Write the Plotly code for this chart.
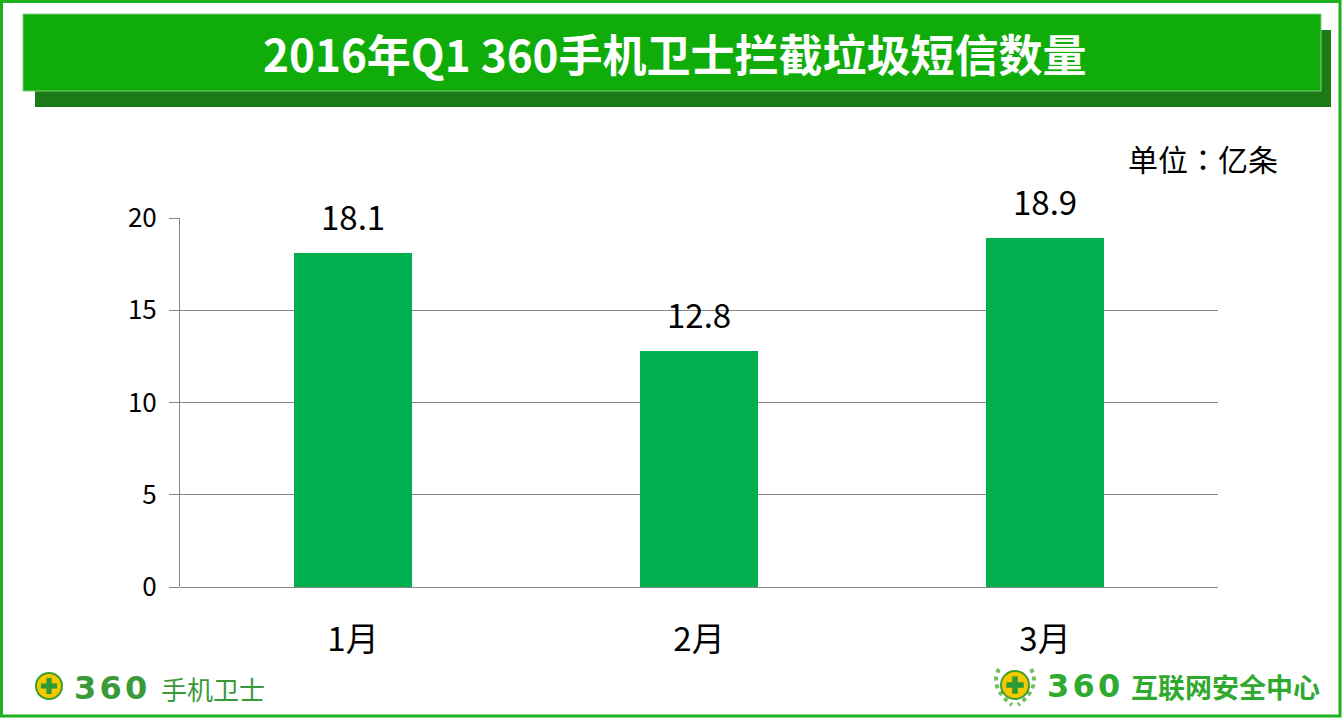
import plotly.graph_objects as go

categories = ["1月", "2月", "3月"]
values = [18.1, 12.8, 18.9]
y_ticks = [0, 5, 10, 15, 20]

title_text = "2016年Q1 360手机卫士拦截垃圾短信数量"
unit_text = "单位：亿条"

W, H = 1344, 720
def px(x):
    return x / W
def py(y):
    return 1 - y / H

FONT = "Noto Sans CJK SC"
GRID = "#878787"
BAR = "#00B050"

fig = go.Figure()
fig.add_trace(go.Bar(
    x=categories, y=values, width=0.34,
    marker=dict(color=BAR, line=dict(width=0)),
    hoverinfo="skip",
))

annotations = []
for c, v in zip(categories, values):
    annotations.append(dict(
        x=c, y=v, xref="x", yref="y", text=f"{v:.1f}", showarrow=False,
        yanchor="bottom", yshift=11,
        font=dict(family=FONT, size=33, color="#000000"),
    ))

# title
annotations.append(dict(
    x=px(675), y=py(53), xref="paper", yref="paper", text="<b>" + title_text + "</b>",
    showarrow=False, xanchor="center", yanchor="middle",
    font=dict(family=FONT, size=44, color="#FFFFFF"),
))
# unit
annotations.append(dict(
    x=px(1280), y=py(158), xref="paper", yref="paper", text=unit_text,
    showarrow=False, xanchor="right", yanchor="middle",
    font=dict(family="Noto Sans CJK TC", size=30, color="#000000"),
))
# left logo text
annotations.append(dict(
    x=px(72), y=py(688), xref="paper", yref="paper", text="<b>3\u200a6\u200a0</b>",
    showarrow=False, xanchor="left", yanchor="middle",
    font=dict(family="DejaVu Sans", size=32, color="#3A9A3A"),
))
annotations.append(dict(
    x=px(159), y=py(688), xref="paper", yref="paper", text="手机卫士",
    showarrow=False, xanchor="left", yanchor="middle",
    font=dict(family=FONT, size=26, color="#3A9A3A"),
))
# right logo text
annotations.append(dict(
    x=px(1045), y=py(686), xref="paper", yref="paper", text="<b>3\u200a6\u200a0</b>",
    showarrow=False, xanchor="left", yanchor="middle",
    font=dict(family="DejaVu Sans", size=32, color="#2FAA2F"),
))
annotations.append(dict(
    x=px(1129), y=py(686), xref="paper", yref="paper", text="<b>互联网安全中心</b>",
    showarrow=False, xanchor="left", yanchor="middle",
    font=dict(family=FONT, size=27, color="#2FAA2F"),
))

shapes = []
# outer border
shapes.append(dict(type="rect", xref="paper", yref="paper",
                   x0=px(1.5), x1=px(1340), y0=py(1.5), y1=py(716),
                   line=dict(color="#1DB21D", width=3), fillcolor="rgba(0,0,0,0)", layer="above"))
# title shadow and banner
shapes.append(dict(type="rect", xref="paper", yref="paper",
                   x0=px(35), x1=px(1331), y0=py(30), y1=py(107),
                   line=dict(width=0), fillcolor="#1B7A17", layer="below"))
shapes.append(dict(type="rect", xref="paper", yref="paper",
                   x0=px(23), x1=px(1321), y0=py(14), y1=py(91),
                   line=dict(color="#7FD07A", width=1), fillcolor="#10AD0A", layer="below"))

def logo(cx, cy, r, laurel=False):
    out = []
    if laurel:
        R = r + 6
        for s in (-1, 1):
            path = (f"M {px(cx + s * (R - 4))} {py(cy - R + 4)} "
                    f"Q {px(cx + s * (R + 6))} {py(cy + 2)} {px(cx + s * 3)} {py(cy + R)}")
            out.append(dict(type="path", xref="paper", yref="paper", path=path,
                            line=dict(color="#6CC25A", width=4, dash="dot")))
    out.append(dict(type="circle", xref="paper", yref="paper",
                    x0=px(cx - r), x1=px(cx + r), y0=py(cy - r), y1=py(cy + r),
                    line=dict(color="#3F9E2A", width=2), fillcolor="#F6C800"))
    a, b = r * 0.62, r * 0.2
    out.append(dict(type="rect", xref="paper", yref="paper",
                    x0=px(cx - a), x1=px(cx + a), y0=py(cy - b), y1=py(cy + b),
                    line=dict(width=0), fillcolor="#2E9A35"))
    out.append(dict(type="rect", xref="paper", yref="paper",
                    x0=px(cx - b), x1=px(cx + b), y0=py(cy - a), y1=py(cy + a),
                    line=dict(width=0), fillcolor="#2E9A35"))
    return out

shapes += logo(49, 686, 13)
shapes += logo(1015, 685, 14, laurel=True)

fig.update_layout(
    width=W, height=H,
    margin=dict(l=0, r=0, t=0, b=0, autoexpand=False),
    paper_bgcolor="#FFFFFF", plot_bgcolor="#FFFFFF",
    showlegend=False, bargap=0,
    font=dict(family=FONT, color="#000000"),
    xaxis=dict(
        domain=[px(180), px(1218)], automargin=False,
        showgrid=False, showline=False, zeroline=False,
        ticks="", tickfont=dict(family=FONT, size=33, color="#000000"),
        ticklabelstandoff=30,
    ),
    yaxis=dict(
        domain=[py(587), py(218)], automargin=False,
        range=[0, 20], tickvals=y_ticks,
        showgrid=True, gridcolor=GRID, gridwidth=1,
        zeroline=True, zerolinecolor=GRID, zerolinewidth=1,
        showline=True, linecolor=GRID, linewidth=1,
        ticks="outside", ticklen=10, tickcolor=GRID, tickwidth=1,
        tickfont=dict(family=FONT, size=26, color="#000000"),
        ticklabelstandoff=7,
    ),
    annotations=annotations,
    shapes=shapes,
)

fig.write_html("out.html", config={"displayModeBar": False},
               post_script="document.body.style.margin='0';document.body.style.overflow='hidden';")
